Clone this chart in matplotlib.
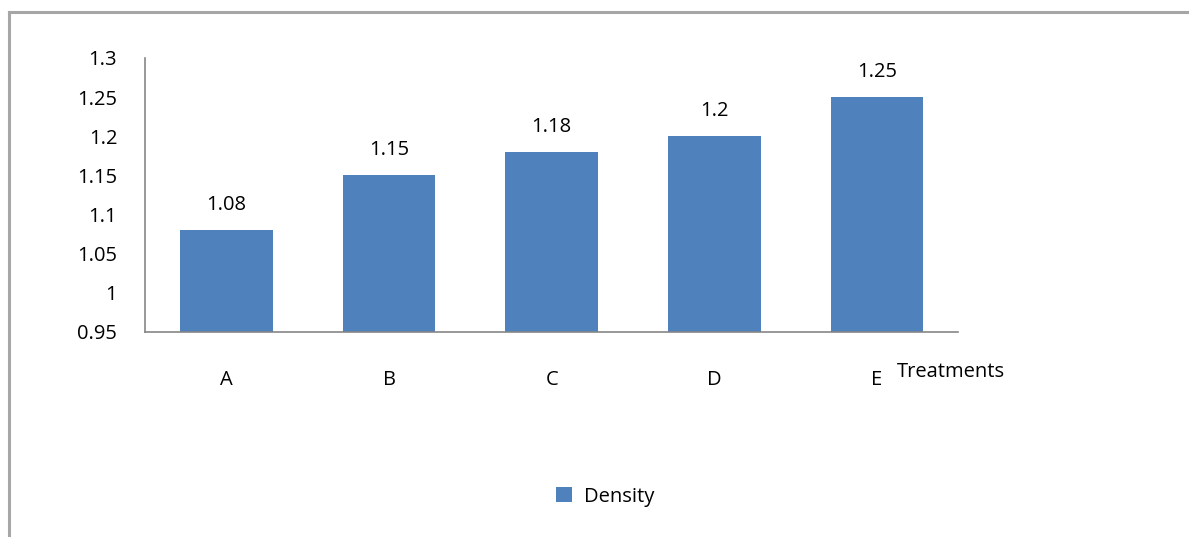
import matplotlib.pyplot as plt
from matplotlib.lines import Line2D
from matplotlib.patches import Patch

# Data
treatments = ['A', 'B', 'C', 'D', 'E']
density = [1.08, 1.15, 1.18, 1.20, 1.25]
value_labels = ['1.08', '1.15', '1.18', '1.2', '1.25']
yticks = [0.95, 1.0, 1.05, 1.1, 1.15, 1.2, 1.25, 1.3]
ytick_labels = ['0.95', '1', '1.05', '1.1', '1.15', '1.2', '1.25', '1.3']

bar_color = '#4F81BD'
fs = 14.5
plt.rcParams['font.family'] = ['Open Sans', 'DejaVu Sans']

fig = plt.figure(figsize=(11.89, 5.37), dpi=100)
ax = fig.add_axes([0.122, 0.382, 0.684, 0.510])

x = range(len(treatments))
ax.bar(x, [d - 0.95 for d in density], bottom=0.95, width=0.57, color=bar_color)

for xi, d, lab in zip(x, density, value_labels):
    ax.annotate(lab, (xi, d), textcoords='offset points', xytext=(0, 11),
                ha='center', va='bottom', fontsize=fs)

ax.set_xlim(-0.5, len(treatments) - 0.5)
ax.set_ylim(0.95, 1.3)
ax.set_yticks(yticks)
ax.set_yticklabels(ytick_labels, fontsize=fs)
ax.set_xticks(list(x))
ax.set_xticklabels(treatments, fontsize=fs)
ax.tick_params(axis='y', length=0, pad=20)
ax.tick_params(axis='x', length=0, pad=27.5)

for s in ['top', 'right']:
    ax.spines[s].set_visible(False)
for s in ['left', 'bottom']:
    ax.spines[s].set_color('#868686')
    ax.spines[s].set_linewidth(1.2)

fig.text(0.754, 0.307, 'Treatments', fontsize=fs, va='center', ha='left')

handles = [Patch(facecolor=bar_color, label='Density')]
fig.legend(handles=handles, loc='center', bbox_to_anchor=(0.509, 0.075),
           frameon=False, fontsize=fs, handlelength=0.75, handleheight=0.75,
           handletextpad=0.6)

# outer border (left and top only visible)
fig.add_artist(Line2D([0.0075, 0.0075], [0, 0.978], color='#A6A6A6', lw=2.2,
                      transform=fig.transFigure))
fig.add_artist(Line2D([0.0075, 1.0], [0.978, 0.978], color='#A6A6A6', lw=2.2,
                      transform=fig.transFigure))

fig.savefig('out.png', dpi=100)
